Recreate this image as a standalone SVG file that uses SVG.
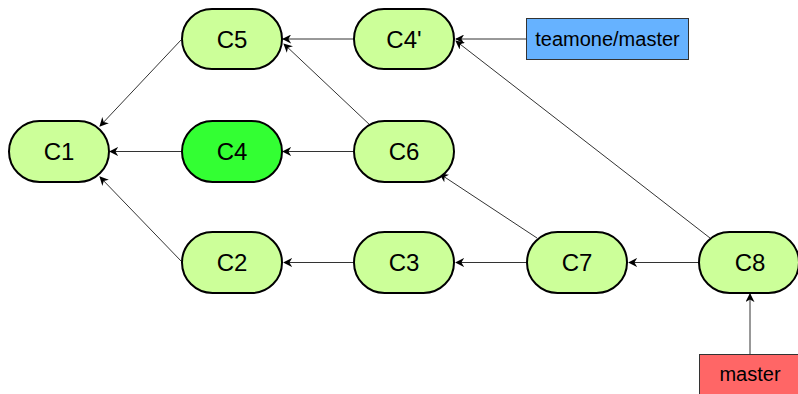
<svg xmlns="http://www.w3.org/2000/svg" width="798" height="394" viewBox="0 0 798 394">
<defs>
<marker id="ah" viewBox="0 0 10 10" refX="9" refY="5" markerWidth="9" markerHeight="9" markerUnits="userSpaceOnUse" orient="auto">
<path d="M0,0 L10,5 L0,10 L3,5 Z" fill="#000"/>
</marker>
<style>
.c{fill:#ccff99;stroke:#000;stroke-width:2}
.cd{fill:#33ff33;stroke:#000;stroke-width:2}
.t{font-family:"Liberation Sans",Arial,sans-serif;font-size:24px;fill:#000;text-anchor:middle;dominant-baseline:central}
.l{font-family:"Liberation Sans",Arial,sans-serif;font-size:20px;fill:#000;text-anchor:middle;dominant-baseline:central}
.e{stroke:#333;stroke-width:1;fill:none;marker-end:url(#ah)}
</style>
</defs>
<rect width="798" height="394" fill="#fff"/>
<g id="connectors">
<line class="e" x1="181" y1="40" x2="100" y2="126"/>
<line class="e" x1="181" y1="151.5" x2="110" y2="151.5"/>
<line class="e" x1="182" y1="262" x2="100" y2="177"/>
<line class="e" x1="353" y1="39" x2="283" y2="39"/>
<line class="e" x1="371" y1="126" x2="284" y2="44"/>
<line class="e" x1="353" y1="151.5" x2="283" y2="151.5"/>
<line class="e" x1="353" y1="262.5" x2="284" y2="262.5"/>
<line class="e" x1="527" y1="262.5" x2="456" y2="262.5"/>
<line class="e" x1="537" y1="238" x2="440" y2="174"/>
<line class="e" x1="699" y1="262.5" x2="629" y2="262.5"/>
<line class="e" x1="710" y1="238" x2="456" y2="41"/>
<line class="e" x1="526" y1="39" x2="456" y2="39"/>
<line class="e" x1="750" y1="354" x2="750" y2="294"/>
</g>
<g id="C1"><rect class="c" x="9" y="121" width="100" height="61" rx="30.5"/><text class="t" x="59" y="151.5">C1</text></g>
<g id="C5"><rect class="c" x="182" y="9" width="100" height="60" rx="30"/><text class="t" x="232" y="39">C5</text></g>
<g id="C4"><rect class="cd" x="182" y="121" width="100" height="61" rx="30.5"/><text class="t" x="232" y="151.5">C4</text></g>
<g id="C2"><rect class="c" x="182" y="232" width="100" height="61" rx="30.5"/><text class="t" x="232" y="262.5">C2</text></g>
<g id="C4p"><rect class="c" x="354" y="9" width="100" height="60" rx="30"/><text class="t" x="404" y="39">C4'</text></g>
<g id="C6"><rect class="c" x="354" y="121" width="100" height="61" rx="30.5"/><text class="t" x="404" y="151.5">C6</text></g>
<g id="C3"><rect class="c" x="354" y="232" width="100" height="61" rx="30.5"/><text class="t" x="404" y="262.5">C3</text></g>
<g id="C7"><rect class="c" x="527" y="232" width="100" height="61" rx="30.5"/><text class="t" x="577" y="262.5">C7</text></g>
<g id="C8"><rect class="c" x="699" y="232" width="100" height="61" rx="30.5"/><text class="t" x="750" y="262.5">C8</text></g>
<g id="teamone-master"><rect x="526.5" y="18.5" width="162" height="41" fill="#66b2ff" stroke="#333" stroke-width="1"/><text class="l" x="607.5" y="39">teamone/master</text></g>
<g id="master"><rect x="699.5" y="354.5" width="102" height="41" fill="#ff6666" stroke="#333" stroke-width="1"/><text class="l" x="750" y="374">master</text></g>
</svg>
